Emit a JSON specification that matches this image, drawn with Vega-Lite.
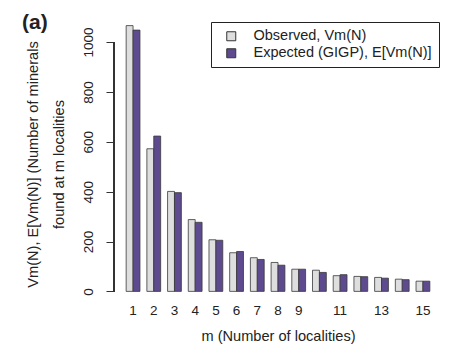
{
  "$schema": "https://vega.github.io/schema/vega-lite/v6.json",
  "autosize": {"type": "none"},
  "width": 328,
  "height": 287,
  "padding": {"left": 114, "top": 15, "right": 28, "bottom": 50},
  "background": "white",
  "config": {"view": {"stroke": null}, "font": "Liberation Sans"},
  "title": {"text": "(a)", "anchor": "start", "frame": "group", "fontSize": 21, "fontWeight": "bold", "color": "#222", "dx": -92, "offset": -18, "baseline": "top"},
  "data": {"values": [
    {"m": 1, "series": "Observed, Vm(N)", "v": 1066},
    {"m": 1, "series": "Expected (GIGP), E[Vm(N)]", "v": 1048},
    {"m": 2, "series": "Observed, Vm(N)", "v": 572},
    {"m": 2, "series": "Expected (GIGP), E[Vm(N)]", "v": 623},
    {"m": 3, "series": "Observed, Vm(N)", "v": 401},
    {"m": 3, "series": "Expected (GIGP), E[Vm(N)]", "v": 396},
    {"m": 4, "series": "Observed, Vm(N)", "v": 288},
    {"m": 4, "series": "Expected (GIGP), E[Vm(N)]", "v": 277},
    {"m": 5, "series": "Observed, Vm(N)", "v": 207},
    {"m": 5, "series": "Expected (GIGP), E[Vm(N)]", "v": 205},
    {"m": 6, "series": "Observed, Vm(N)", "v": 155},
    {"m": 6, "series": "Expected (GIGP), E[Vm(N)]", "v": 160},
    {"m": 7, "series": "Observed, Vm(N)", "v": 135},
    {"m": 7, "series": "Expected (GIGP), E[Vm(N)]", "v": 128},
    {"m": 8, "series": "Observed, Vm(N)", "v": 116},
    {"m": 8, "series": "Expected (GIGP), E[Vm(N)]", "v": 105},
    {"m": 9, "series": "Observed, Vm(N)", "v": 89},
    {"m": 9, "series": "Expected (GIGP), E[Vm(N)]", "v": 89},
    {"m": 10, "series": "Observed, Vm(N)", "v": 85},
    {"m": 10, "series": "Expected (GIGP), E[Vm(N)]", "v": 76},
    {"m": 11, "series": "Observed, Vm(N)", "v": 63},
    {"m": 11, "series": "Expected (GIGP), E[Vm(N)]", "v": 67},
    {"m": 12, "series": "Observed, Vm(N)", "v": 60},
    {"m": 12, "series": "Expected (GIGP), E[Vm(N)]", "v": 59},
    {"m": 13, "series": "Observed, Vm(N)", "v": 56},
    {"m": 13, "series": "Expected (GIGP), E[Vm(N)]", "v": 53},
    {"m": 14, "series": "Observed, Vm(N)", "v": 49},
    {"m": 14, "series": "Expected (GIGP), E[Vm(N)]", "v": 47},
    {"m": 15, "series": "Observed, Vm(N)", "v": 41},
    {"m": 15, "series": "Expected (GIGP), E[Vm(N)]", "v": 41}
  ]},
  "layer": [
    {
      "mark": {"type": "bar", "stroke": "#3a3a3a", "strokeWidth": 0.8},
      "encoding": {
        "x": {"field": "m", "type": "ordinal",
          "scale": {"paddingInner": 0.3333, "paddingOuter": 0.587},
          "axis": {"values": [1,2,3,4,5,6,7,8,9,11,13,15], "labelAngle": 0, "domain": false, "ticks": false,
            "labelFontSize": 13.5, "labelColor": "#222", "labelPadding": 1,
            "title": "m (Number of localities)", "titleFontSize": 14.6, "titleFontWeight": "normal", "titleColor": "#222", "titlePadding": 12}},
        "xOffset": {"field": "series", "type": "nominal", "sort": ["Observed, Vm(N)", "Expected (GIGP), E[Vm(N)]"], "scale": {"paddingInner": 0, "paddingOuter": 0}},
        "y": {"field": "v", "type": "quantitative",
          "scale": {"domain": [-42.6, 1108.6], "nice": false, "zero": false},
          "axis": {"values": [0,200,400,600,800,1000], "format": "d", "grid": false, "domain": false, "tickSize": 8, "tickColor": "#333",
            "labelAngle": -90, "labelAlign": "center", "labelBaseline": "bottom", "labelFontSize": 13.5, "labelColor": "#222", "labelPadding": 11,
            "title": ["Vm(N), E[Vm(N)] (Number of minerals", "found at m localities"], "titleFontSize": 14.6, "titleFontWeight": "normal", "titleColor": "#222", "titlePadding": 15, "titleLineHeight": 26, "titleY": 149}},
        "y2": {"datum": 0},
        "color": {"field": "series", "type": "nominal", "sort": ["Observed, Vm(N)", "Expected (GIGP), E[Vm(N)]"],
          "scale": {"domain": ["Observed, Vm(N)", "Expected (GIGP), E[Vm(N)]"], "range": ["#dedede", "#5e4a8e"]},
          "legend": {"title": null, "orient": "none", "legendX": 97, "legendY": 7, "strokeColor": "#222", "padding": 7,
            "symbolType": "square", "symbolSize": 81, "symbolOffset": 6, "symbolStrokeColor": "#333", "symbolStrokeWidth": 1, "symbolOpacity": 1,
            "labelFontSize": 14.5, "labelColor": "#222", "labelOffset": 15, "rowPadding": 2, "labelLimit": 300}}
      }
    },
    {
      "mark": {"type": "rule", "color": "#333", "strokeWidth": 1},
      "encoding": {"x": {"value": 0}, "y": {"datum": 0}, "y2": {"datum": 1000}}
    }
  ]
}
